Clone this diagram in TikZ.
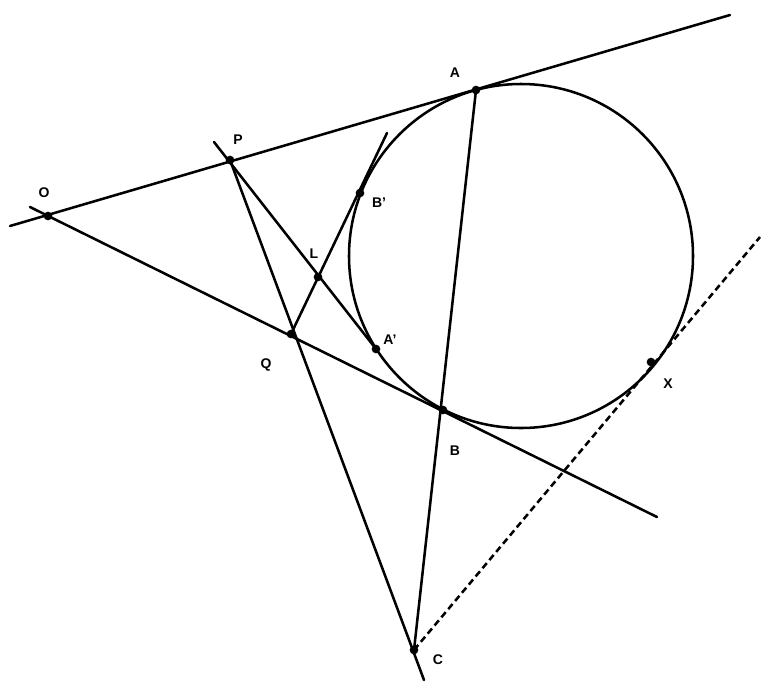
\documentclass[tikz,border=0pt]{standalone}
\usepackage{fontspec}
\setmainfont{Liberation Sans}
\begin{document}
\begin{tikzpicture}[x=0.75pt,y=-0.75pt,
  ln/.style={line width=1.9pt,line cap=round},
  dot/.style={circle,fill=black,inner sep=0pt,minimum size=6.5pt},
  lab/.style={font=\fontsize{10.5}{12}\selectfont\bfseries,inner sep=0pt}]
\useasboundingbox (0,0) rectangle (764,683);
% points
\coordinate (O) at (48,216);
\coordinate (A) at (476,90);
\coordinate (P) at (230,160);
\coordinate (Bp) at (360,193);
\coordinate (L) at (318,277);
\coordinate (Q) at (291,334);
\coordinate (Ap) at (376,349);
\coordinate (B) at (443,410);
\coordinate (X) at (651,362);
\coordinate (C) at (414,650);
\coordinate (Ctr) at (521,256);
% free ends
\coordinate (u1) at (10,226);
\coordinate (u2) at (730,15);
\coordinate (l1) at (30,207);
\coordinate (l2) at (657,517);
\coordinate (p0) at (214,142);
\coordinate (q1) at (387,133);
\coordinate (c1) at (424,680);
\coordinate (d1) at (760,237);
% circle
\draw[ln] (Ctr) circle[radius=129pt];
% lines
\draw[ln] (u1) -- (u2);
\draw[ln] (l1) -- (l2);
\draw[ln] (p0) -- (Ap);
\draw[ln] (Q) -- (q1);
\draw[ln] (P) -- (c1);
\draw[ln] (A) -- (C);
\draw[line width=1.9pt,dash pattern=on 5pt off 3pt] (C) -- (d1);
% dots
\foreach \p in {O,A,P,Bp,L,Q,Ap,B,X,C} \node[dot] (d\p) at (\p) {};
% labels
\node[lab] (tO) at (44,193) {O};
\node[lab] (tA) at (455,73) {A};
\node[lab] (tP) at (238,140) {P};
\node[lab] (tBp) at (379,203) {B'};
\node[lab] (tL) at (314,254) {L};
\node[lab] (tQ) at (266,365) {Q};
\node[lab] (tAp) at (390,340) {A'};
\node[lab] (tB) at (455,451) {B};
\node[lab] (tX) at (668,384) {X};
\node[lab] (tC) at (438,660) {C};
\end{tikzpicture}
\end{document}
